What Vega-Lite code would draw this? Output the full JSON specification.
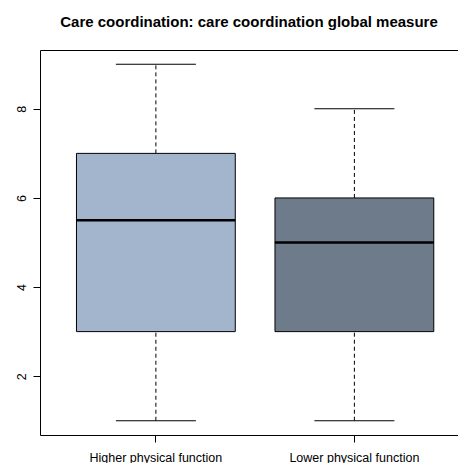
{
  "$schema": "https://vega.github.io/schema/vega-lite/v6.json",
  "autosize": "none",
  "width": 418,
  "height": 385,
  "padding": {"left": 40, "top": 50, "right": 0, "bottom": 28},
  "background": "white",
  "title": {
    "text": "Care coordination: care coordination global measure",
    "font": "Liberation Sans",
    "fontSize": 15,
    "fontWeight": "bold",
    "color": "black",
    "anchor": "middle",
    "frame": "group",
    "baseline": "alphabetic",
    "offset": 8
  },
  "config": {
    "view": {"stroke": "black", "strokeWidth": 1},
    "axis": {
      "labelFont": "Liberation Sans",
      "labelFontSize": 12.5,
      "labelColor": "black",
      "tickColor": "black",
      "tickSize": 7,
      "domain": false,
      "grid": false
    }
  },
  "data": {
    "values": [
      {"group": "Higher physical function", "min": 1, "q1": 3, "median": 5.5, "q3": 7, "max": 9},
      {"group": "Lower physical function", "min": 1, "q1": 3, "median": 5, "q3": 6, "max": 8}
    ]
  },
  "encoding": {
    "x": {
      "field": "group",
      "type": "nominal",
      "sort": null,
      "scale": {"type": "band", "paddingInner": 0.2, "paddingOuter": 0.1529, "align": 0.601},
      "axis": {"title": null, "labelAngle": 0, "labelBaseline": "alphabetic", "labelPadding": 19}
    }
  },
  "layer": [
    {
      "mark": {"type": "rule", "strokeDash": [4, 3], "color": "black", "strokeWidth": 1},
      "encoding": {
        "y": {
          "field": "min", "type": "quantitative",
          "scale": {"domain": [0.68, 9.32], "nice": false, "zero": false},
          "axis": {"title": null, "values": [2, 4, 6, 8], "labelAngle": 270, "labelAlign": "center", "labelBaseline": "alphabetic", "labelPadding": 8}
        },
        "y2": {"field": "q1"}
      }
    },
    {
      "mark": {"type": "rule", "strokeDash": [4, 3], "color": "black", "strokeWidth": 1},
      "encoding": {
        "y": {"field": "q3", "type": "quantitative"},
        "y2": {"field": "max"}
      }
    },
    {
      "mark": {"type": "tick", "color": "black", "size": 80, "thickness": 1, "opacity": 1},
      "encoding": {"y": {"field": "min", "type": "quantitative"}}
    },
    {
      "mark": {"type": "tick", "color": "black", "size": 80, "thickness": 1, "opacity": 1},
      "encoding": {"y": {"field": "max", "type": "quantitative"}}
    },
    {
      "mark": {"type": "bar", "stroke": "black", "strokeWidth": 1, "opacity": 1},
      "encoding": {
        "y": {"field": "q1", "type": "quantitative"},
        "y2": {"field": "q3"},
        "fill": {
          "field": "group", "type": "nominal",
          "scale": {"domain": ["Higher physical function", "Lower physical function"], "range": ["#A2B5CD", "#6E7B8B"]},
          "legend": null
        }
      }
    },
    {
      "mark": {"type": "tick", "color": "black", "size": 159, "thickness": 2.5, "opacity": 1},
      "encoding": {"y": {"field": "median", "type": "quantitative"}}
    }
  ]
}
